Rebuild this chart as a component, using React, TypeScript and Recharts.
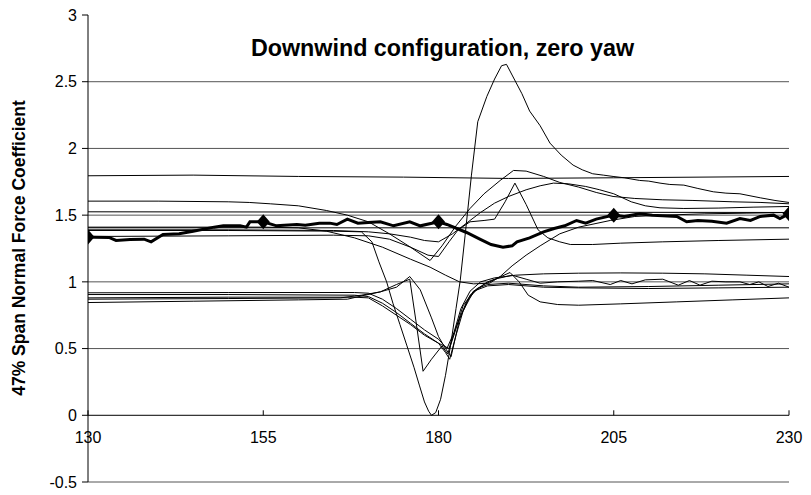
import React from 'react';
import { LineChart, Line, XAxis, YAxis, ReferenceLine } from 'recharts';

// azimuth angle (deg) vs normal force coefficient at 47% span
const xTicks = [130, 155, 180, 205, 230];
const yTicks = [-0.5, 0, 0.5, 1, 1.5, 2, 2.5, 3];
const gridLevels = [-0.5, 0.5, 1, 1.5, 2, 2.5];

// mean curve (thick, diamonds every 25 deg)
const meanCn = [
  [130, 1.337], [131, 1.335], [133, 1.333], [134, 1.31], [136, 1.318], [138, 1.32], [139, 1.3],
  [140.7, 1.355], [143, 1.36], [145, 1.38], [148, 1.41], [149.3, 1.42], [151.7, 1.42], [152.6, 1.41],
  [153.1, 1.45], [155, 1.45], [156.9, 1.42], [158, 1.425], [159.8, 1.43], [161, 1.425], [163, 1.44],
  [164.5, 1.44], [165.5, 1.43], [167, 1.47], [168.5, 1.44], [170, 1.445], [171.7, 1.45], [173.6, 1.42],
  [175.9, 1.45], [177.4, 1.42], [180, 1.45], [181.2, 1.43], [184, 1.37], [185.9, 1.32], [187.5, 1.28],
  [189.2, 1.26], [190.5, 1.27], [191.2, 1.3], [193, 1.33], [195, 1.375], [196.5, 1.4], [198, 1.42],
  [199.7, 1.46], [201, 1.44], [202.5, 1.47], [205, 1.5], [206.5, 1.49], [208.7, 1.51], [210.5, 1.5],
  [212, 1.495], [214, 1.49], [215.4, 1.45], [217, 1.46], [219, 1.455], [221.1, 1.44], [223, 1.475],
  [224.5, 1.46], [225.9, 1.49], [227.8, 1.5], [228.7, 1.475], [230, 1.51],
];

// flat reference levels
const level180 = [[130, 1.795], [145, 1.8], [160, 1.79], [175, 1.785], [190, 1.775], [205, 1.78], [230, 1.79]];
const level152 = [[130, 1.525], [230, 1.52]];
const level140 = [[130, 1.405], [230, 1.405]];

// individual cycles
const cycleStall = [
  [130, 1.385], [150, 1.385], [165, 1.38], [169, 1.375], [170.5, 1.3], [171.5, 1.15], [172.6, 1.0],
  [173.5, 0.84], [174.5, 0.68], [175.5, 0.52], [176.5, 0.36], [177.3, 0.22], [178, 0.1], [178.6, 0.03],
  [179, 0.0], [179.6, 0.02], [180.3, 0.12], [181, 0.3], [181.8, 0.55], [182.5, 0.8], [183.1, 1.01],
  [183.8, 1.35], [184.7, 1.8], [185.6, 2.2], [186.9, 2.39], [188, 2.52], [189, 2.62], [189.7, 2.63],
  [190.5, 2.55], [191.9, 2.41], [193, 2.28], [194.5, 2.17], [195.9, 2.04], [197.5, 1.95], [199.2, 1.875],
  [200.5, 1.84], [202, 1.81], [203.5, 1.8], [204.9, 1.79], [206.5, 1.78], [208.7, 1.76], [210, 1.755],
  [211.6, 1.74], [213, 1.73], [215, 1.725], [217, 1.7], [219.2, 1.675], [221, 1.665], [223, 1.66],
  [225.9, 1.63], [228, 1.61], [230, 1.595],
];
const cycleB = [
  [130, 1.605], [140, 1.605], [150, 1.6], [153, 1.595], [156, 1.585], [160, 1.57], [164, 1.535],
  [167, 1.5], [170, 1.45], [173, 1.36], [176, 1.26], [178.8, 1.16], [180.5, 1.27], [182.5, 1.42],
  [184.5, 1.55], [186.5, 1.66], [188.8, 1.76], [190.7, 1.835], [192.5, 1.83], [195, 1.79], [197.3, 1.745],
  [200, 1.71], [202.5, 1.67], [204.9, 1.64], [208, 1.625], [212, 1.615], [216.3, 1.61], [222, 1.6],
  [226, 1.595], [230, 1.585],
];
const cycleC = [
  [130, 1.39], [150, 1.39], [165, 1.385], [170, 1.375], [173, 1.36], [176, 1.335], [178, 1.31],
  [180, 1.3], [182, 1.36], [184, 1.44], [186, 1.52], [188, 1.59], [190, 1.64], [192.5, 1.69],
  [194.5, 1.72], [196.4, 1.74], [198.5, 1.735], [201, 1.715], [203, 1.69], [205, 1.66], [207.5, 1.6],
  [209.5, 1.57], [211.6, 1.555], [215, 1.55], [220, 1.553], [225, 1.56], [230, 1.565],
];
const cycleSpike = [
  [130, 1.34], [150, 1.345], [165, 1.35], [170, 1.345], [173, 1.32], [176, 1.26], [178.5, 1.2],
  [180, 1.19], [181.5, 1.3], [182.8, 1.39], [184.5, 1.45], [186.5, 1.46], [188, 1.47], [189.5, 1.6],
  [190.9, 1.74], [192.5, 1.58], [194.2, 1.39], [195.6, 1.33], [197.3, 1.3], [198.8, 1.28], [202, 1.28],
  [206, 1.29], [212, 1.3], [220, 1.31], [230, 1.32],
];
const cycleU = [
  [130, 1.41], [155, 1.41], [160, 1.405], [164, 1.38], [168, 1.33], [172, 1.26], [176, 1.17],
  [178.8, 1.11], [181, 1.05], [183, 1.0], [185, 0.985], [187.3, 0.99], [188.8, 1.04], [190.5, 1.12],
  [192.5, 1.2], [194.5, 1.27], [197.3, 1.36], [200, 1.41], [204.5, 1.46], [208, 1.49], [212, 1.5],
  [218, 1.51], [224, 1.515], [230, 1.52],
];
const cycleLowA = [
  [130, 0.918], [150, 0.92], [168, 0.92], [170, 0.915], [172, 0.87], [174, 0.8], [176, 0.72],
  [178, 0.64], [180, 0.57], [181.2, 0.5], [182.2, 0.62], [183.2, 0.8], [184.5, 0.93], [186, 1.0],
  [188, 1.03], [191, 1.05], [195, 1.06], [200, 1.065], [206, 1.067], [212, 1.065], [218, 1.06],
  [224, 1.05], [230, 1.04],
];
const cycleLowB = [
  [130, 0.905], [150, 0.905], [168, 0.9], [170, 0.89], [172, 0.84], [174, 0.77], [176, 0.69],
  [178, 0.61], [180, 0.54], [181, 0.47], [181.6, 0.42], [182.5, 0.6], [183.5, 0.78], [185, 0.93],
  [187, 1.0], [188, 1.02], [190.5, 1.05], [192.5, 1.02], [194.5, 0.99], [197, 1.0], [200, 1.005],
  [202, 1.01], [204.5, 0.98], [206, 1.01], [207.6, 0.985], [209.5, 1.015], [212, 1.02], [214.2, 0.975],
  [215.8, 1.01], [217.3, 0.975], [219, 1.005], [221, 1.0], [223, 1.0], [224.4, 0.98], [225.7, 1.0],
  [227, 0.965], [228.5, 0.99], [230, 0.96],
];
const cycleLowC = [
  [130, 0.88], [150, 0.885], [168, 0.885], [170, 0.88], [172, 0.82], [174, 0.75], [176, 0.68],
  [178, 0.6], [180, 0.54], [181.5, 0.5], [182.5, 0.66], [184, 0.85], [185.5, 0.95], [187, 0.98],
  [190, 0.99], [195, 0.97], [200, 0.96], [210, 0.965], [220, 0.975], [230, 0.985],
];
const cycleLowD = [
  [130, 0.845], [145, 0.855], [160, 0.865], [167, 0.87], [169.5, 0.9], [171.7, 0.925], [174, 0.96],
  [175.9, 1.04], [177.4, 0.94], [179, 0.73], [180, 0.59], [181, 0.5], [181.8, 0.44], [183, 0.72],
  [184.5, 0.9], [186.5, 0.98], [188.5, 1.03], [190.2, 1.07], [191.5, 1.0], [192.8, 0.9], [194.5, 0.85],
  [197, 0.83], [200, 0.825], [206, 0.835], [214, 0.85], [222, 0.865], [230, 0.88],
];
const cycleLowE = [
  [130, 0.87], [150, 0.875], [166, 0.88], [169, 0.9], [171.7, 0.925], [174, 0.98], [175.9, 1.02],
  [176.8, 0.7], [177.8, 0.33], [179, 0.42], [180.5, 0.52], [181.3, 0.46], [182.2, 0.6], [183.5, 0.82],
  [185, 0.93], [187, 0.97], [190, 0.98], [195, 0.96], [200, 0.955], [210, 0.95], [220, 0.955], [230, 0.96],
];

const thinSeries = [
  level180, level152, level140, cycleStall, cycleB, cycleC, cycleSpike, cycleU,
  cycleLowA, cycleLowB, cycleLowC, cycleLowD, cycleLowE,
];

const toPts = (arr: number[][]) => arr.map(([x, y]) => ({ x, y }));

const FONT = '"Liberation Sans", Arial, sans-serif';
const W = 811;
const H = 495;
const PLOT_TOP = 15;
const PLOT_BOTTOM = 482;
const Y_MIN = -0.5;
const Y_MAX = 3;
// distance from bottom of plot to the y=0 line
const ZERO_OFFSET = ((0 - Y_MIN) / (Y_MAX - Y_MIN)) * (PLOT_BOTTOM - PLOT_TOP);

function XTick(props: any) {
  const { x, y, payload } = props;
  const y0 = y - ZERO_OFFSET;
  return (
    <g>
      <line x1={x} x2={x} y1={y0} y2={y0 - 5} stroke="#000" />
      <text x={x} y={y0 + 28} textAnchor="middle" fontSize={16} fontFamily={FONT} fill="#000">
        {payload.value}
      </text>
    </g>
  );
}

function Diamond(props: any) {
  const { cx, cy, payload, index } = props;
  if (!xTicks.includes(payload.x)) return <g key={`d${index}`} />;
  return (
    <polygon
      key={`d${index}`}
      points={`${cx},${cy - 7.5} ${cx + 6.5},${cy} ${cx},${cy + 7.5} ${cx - 6.5},${cy}`}
      fill="#000"
    />
  );
}

export default function App() {
  return (
    <div style={{ position: 'absolute', left: 0, top: 0, width: W, height: H, background: '#fff' }}>
      <LineChart width={W} height={H} margin={{ top: PLOT_TOP, right: 22, bottom: 0, left: 0 }}>
        <XAxis
          type="number"
          dataKey="x"
          domain={[130, 230]}
          ticks={xTicks}
          axisLine={false}
          tickLine={false}
          tickSize={0}
          tickMargin={0}
          height={H - PLOT_BOTTOM}
          tick={<XTick />}
          allowDataOverflow
        />
        <YAxis
          type="number"
          domain={[Y_MIN, Y_MAX]}
          ticks={yTicks}
          width={88}
          axisLine={{ stroke: '#000' }}
          tickLine={{ stroke: '#000' }}
          tickSize={6}
          tickMargin={5}
          tick={{ fontSize: 16, fontFamily: FONT, fill: '#000' }}
          allowDataOverflow
        />
        {gridLevels.map((v) => (
          <ReferenceLine key={v} y={v} stroke="#555" strokeWidth={1} />
        ))}
        <ReferenceLine y={0} stroke="#000" strokeWidth={1} />
        {thinSeries.map((s, i) => (
          <Line
            key={i}
            data={toPts(s)}
            dataKey="y"
            type="linear"
            stroke="#000"
            strokeWidth={1}
            dot={false}
            activeDot={false}
            isAnimationActive={false}
          />
        ))}
        <Line
          data={toPts(meanCn)}
          dataKey="y"
          type="linear"
          stroke="#000"
          strokeWidth={3}
          dot={<Diamond />}
          activeDot={false}
          isAnimationActive={false}
        />
      </LineChart>
      <div
        style={{
          position: 'absolute',
          left: 0,
          width: W,
          top: 35,
          paddingLeft: 74,
          boxSizing: 'border-box',
          textAlign: 'center',
          fontFamily: FONT,
          fontWeight: 'bold',
          fontSize: 23.3,
          pointerEvents: 'none',
        }}
      >
        Downwind configuration, zero yaw
      </div>
      <div
        style={{
          position: 'absolute',
          left: 19,
          top: 248,
          transform: 'translate(-50%, -50%) rotate(-90deg)',
          whiteSpace: 'nowrap',
          fontFamily: FONT,
          fontWeight: 'bold',
          fontSize: 17.5,
        }}
      >
        47% Span Normal Force Coefficient
      </div>
    </div>
  );
}
